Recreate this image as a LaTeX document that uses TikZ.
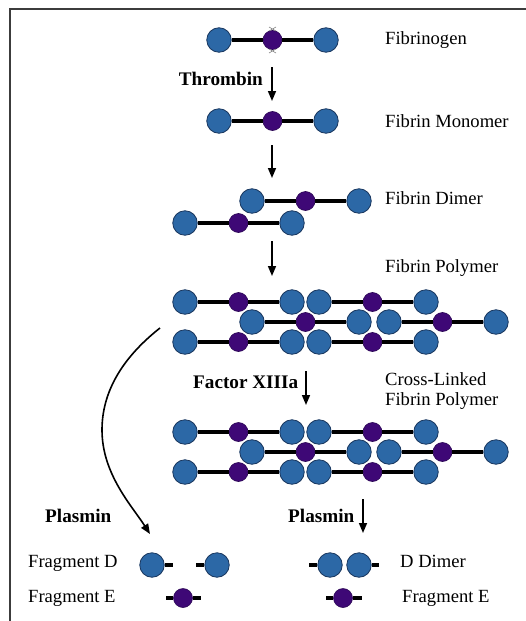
\documentclass[tikz,border=0pt]{standalone}
\usepackage{fontspec}
\setmainfont{Liberation Serif}
\usetikzlibrary{arrows.meta}
\definecolor{ballblue}{RGB}{44,104,166}
\definecolor{balledge}{RGB}{25,55,95}
\definecolor{ballpurple}{RGB}{62,8,118}
\definecolor{framegray}{RGB}{60,60,60}
\tikzset{
  bl/.style={circle,fill=ballblue,draw=balledge,line width=0.8pt,minimum size=24.5pt,inner sep=0pt},
  pu/.style={circle,fill=ballpurple,draw=ballpurple!70!black,line width=0.6pt,minimum size=19pt,inner sep=0pt},
  rod/.style={line width=4pt,black},
  xlink/.style={draw=gray,double=white,line width=0.5pt,double distance=1.2pt},
  arr/.style={line width=1.6pt,-{Triangle[length=10pt,width=8pt]}},
  lbl/.style={anchor=west,inner sep=0pt,font=\fontsize{18.6}{20}\selectfont},
  blbl/.style={inner sep=0pt,font=\fontsize{19.2}{21}\selectfont\bfseries},
  cut/.style={line width=0.6pt,gray}
}
\newcommand{\mono}[3]{%
  \node[bl] (#1a) at (#2,#3) {};
  \node[pu] (#1e) at (#2+53.5,#3) {};
  \node[bl] (#1b) at (#2+107,#3) {};
  \draw[rod] (#1a) -- (#1e) -- (#1b);}
\begin{document}
\begin{tikzpicture}[x=1pt,y=-1pt]
\useasboundingbox (0,0) rectangle (526,621);
\draw[line width=1.5pt,framegray] (10,621) -- (10,9) -- (526,9);

% Fibrinogen
\mono{fg}{219}{40}
\draw[cut] (269,27) -- (276,31) (276,27) -- (269,31);
\draw[cut] (269,49) -- (276,53) (276,49) -- (269,53);
\node[lbl] (lfg) at (385,40) {Fibrinogen};

% Thrombin arrow
\coordinate (a1s) at (272,67); \coordinate (a1e) at (272,101);
\draw[arr] (a1s) -- (a1e);
\node[blbl,anchor=east] (thr) at (263,79) {Thrombin};

% Fibrin monomer
\mono{mo}{219}{121}
\node[lbl] (lmo) at (385,121) {Fibrin Monomer};

\coordinate (a2s) at (272,145); \coordinate (a2e) at (272,178);
\draw[arr] (a2s) -- (a2e);

% Fibrin dimer
\mono{dt}{252}{201}
\mono{db}{185}{223}
\node[lbl] (ldi) at (385,198) {Fibrin Dimer};

\coordinate (a3s) at (272,241); \coordinate (a3e) at (272,276);
\draw[arr] (a3s) -- (a3e);

% Fibrin polymer
\node[lbl] (lpo) at (385,268) {Fibrin Polymer};
\mono{pa}{185}{302}
\mono{pb}{319}{302}
\mono{pc}{252}{322}
\mono{pd}{389}{322}
\mono{pf}{185}{342}
\mono{pg}{319}{342}

% Factor XIIIa
\coordinate (a4s) at (306,371); \coordinate (a4e) at (306,405);
\draw[arr] (a4s) -- (a4e);
\node[blbl,anchor=west] (fxiii) at (193,382) {Factor XIIIa};
\node[lbl,align=left] (lcl) at (385,391) {Cross-Linked\\[-0.5pt]Fibrin Polymer};

% Cross-linked polymer
\mono{ca}{185}{432}
\mono{cb}{319}{432}
\mono{cc}{252}{452}
\mono{cd}{389}{452}
\mono{cf}{185}{472}
\mono{cg}{319}{472}
\draw[xlink] (cab) -- (cba);
\draw[xlink] (ccb) -- (cda);
\draw[xlink] (cfb) -- (cga);

% Plasmin (left, curved)
\coordinate (cvs) at (160,328); \coordinate (cve) at (150,534);
\draw[arr] (cvs) .. controls (122,358) and (102,392) .. (102,430)
  .. controls (102,474) and (132,506) .. (cve);
\node[blbl,anchor=west] (pl1) at (45,516) {Plasmin};

% Plasmin (right)
\coordinate (a5s) at (363,499); \coordinate (a5e) at (363,533);
\draw[arr] (a5s) -- (a5e);
\node[blbl,anchor=west] (pl2) at (288,516) {Plasmin};

% Fragments left
\node[lbl] (lfd) at (28,563) {Fragment D};
\node[lbl] (lfe) at (28,598) {Fragment E};
\node[bl] (fd1) at (152,565) {};
\coordinate (fd1s) at (173,565);
\draw[rod] (fd1) -- (fd1s);
\node[bl] (fd2) at (217,565) {};
\coordinate (fd2s) at (196,565);
\draw[rod] (fd2s) -- (fd2);
\node[pu] (fe1) at (183,598) {};
\coordinate (fe1l) at (166,598); \coordinate (fe1r) at (201,598);
\draw[rod] (fe1l) -- (fe1) -- (fe1r);

% Fragments right
\node[bl] (dd1) at (330,565) {};
\node[bl] (dd2) at (359,565) {};
\coordinate (ddl) at (309,565); \coordinate (ddr) at (379,565);
\draw[rod] (ddl) -- (dd1);
\draw[rod] (dd2) -- (ddr);
\draw[xlink] (dd1) -- (dd2);
\node[pu] (fe2) at (343,598) {};
\coordinate (fe2l) at (326,598); \coordinate (fe2r) at (362,598);
\draw[rod] (fe2l) -- (fe2) -- (fe2r);
\node[lbl] (ldd) at (400,561) {D Dimer};
\node[lbl] (lfe2) at (402,598) {Fragment E};
\end{tikzpicture}
\end{document}
